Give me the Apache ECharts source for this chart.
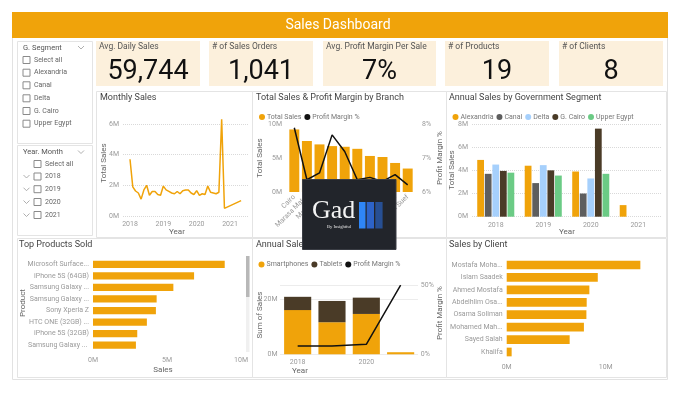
<!DOCTYPE html>
<html><head><meta charset="utf-8">
<script src="https://cdn.jsdelivr.net/npm/echarts@6/dist/echarts.min.js"></script>
<style>html,body{margin:0;padding:0;background:#fff}#c{width:680px;height:393px}</style>
</head><body><div id="c"></div>
<script>
// ---------------- DATA ----------------
const kpiLabels = ['Avg. Daily Sales', '# of Sales Orders', 'Avg. Profit Margin Per Sale', '# of Products', '# of Clients'];
const kpiValues = ['59,744', '1,041', '7%', '19', '8'];

const segmentOptions = ['Select all', 'Alexandria', 'Canal', 'Delta', 'G. Cairo', 'Upper Egypt'];
const yearOptions = ['2018', '2019', '2020', '2021'];

const monthlyMonths = [
  '2018-01','2018-02','2018-03','2018-04','2018-05','2018-06','2018-07','2018-08','2018-09','2018-10','2018-11','2018-12',
  '2019-01','2019-02','2019-03','2019-04','2019-05','2019-06','2019-07','2019-08','2019-09','2019-10','2019-11','2019-12',
  '2020-01','2020-02','2020-03','2020-04','2020-05','2020-06','2020-07','2020-08','2020-09','2020-10','2020-11',
  '2021-05'
];
const monthlySalesM = [
  3.7, 1.9, 1.63, 1.5, 1.1, 1.7, 2.0, 1.35, 1.6, 1.6, 1.4, 1.35,
  1.95, 1.7, 1.6, 1.5, 1.45, 1.6, 1.45, 1.65, 1.7, 1.7, 1.5, 1.4,
  1.65, 1.35, 1.45, 1.4, 1.95, 1.55, 1.5, 1.45, 1.55, 6.3, 0.5,
  1.0
];
const monthlyYearTicks = [2018, 2019, 2020, 2021];

const branchNames = ['Cairo', 'Marasa Matrouh', 'Mansoura', 'Giza', 'Alexandria', 'Port Said', 'Tanta', 'Aswan', 'Suez', 'Beni Suef'];
const branchSalesM = [9.2, 7.5, 7.0, 6.75, 6.65, 6.35, 5.3, 5.15, 4.27, 3.45];
const branchMarginPct = [7.89, 6.36, 6.56, 7.68, 7.19, 6.36, 6.43, 6.31, 6.51, 6.21];

const govYears = ['2018', '2019', '2020', '2021'];
const govAlexandriaM = [4.9, 4.4, 3.9, 1.0];
const govCanalM = [3.7, 2.9, 2.0, null];
const govDeltaM = [4.5, 4.45, 3.3, null];
const govGCairoM = [3.95, 4.0, 7.6, null];
const govUpperEgyptM = [3.8, 3.55, 3.7, null];

const productNames = ['Microsoft Surface...', 'iPhone 5S (64GB)', 'Samsung Galaxy ...', 'Samsung Galaxy ...', 'Sony Xperia Z', 'HTC ONE (32GB) ...', 'iPhone 5S (32GB)', 'Samsung Galaxy ... '];
const productSalesM = [8.9, 6.83, 5.43, 4.3, 4.25, 3.64, 2.99, 2.9];

const annualYears = ['2018', '2019', '2020', '2021'];
const smartphonesM = [16.0, 11.6, 14.6, 0.75];
const tabletsM = [4.8, 7.7, 5.9, 0];
const annualMarginPct = [6.0, 6.0, 7.2, 50.0];

const clientNames = ['Mostafa Moha...', 'Islam Saadek', 'Ahmed Mostafa', 'Abdelhlim Osa...', 'Osama Soliman', 'Mohamed Mah...', 'Sayed Salah', 'Khalifa'];
const clientSalesM = [13.5, 9.2, 8.35, 8.08, 8.05, 7.8, 6.36, 0.5];

// ---------------- STYLE ----------------
const ORANGE = '#F0A30A';
const F = 'Roboto, "Open Sans", sans-serif';
const lbl = { color: '#9a9a9a', fontSize: 7, fontFamily: F };
const dotted = { show: true, lineStyle: { color: '#d9d9d9', type: 'dotted', width: 1 } };
const noLine = { show: false };
const fmtM = v => v + 'M';
const fmtP = v => v + '%';
const toYear = m => Number(m.slice(0, 4)) + (Number(m.slice(5, 7)) - 1) / 12;

// ---------------- GRAPHIC (panels, cards, slicers, axis titles, logo) ----------------
const g = [];
function rect(x, y, w, h, fill, stroke, z) {
  g.push({ type: 'rect', shape: { x, y, width: w, height: h }, style: { fill: fill || 'none', stroke: stroke || null, lineWidth: 1 }, z: z || 0, silent: true });
}
function txt(x, y, text, o) {
  o = o || {};
  g.push({ type: 'text', x, y, rotation: o.rot || 0, z: o.z || 1, silent: true, style: {
    text, fill: o.fill || '#555', fontSize: o.size || 8, fontFamily: o.family || F, fontWeight: o.weight || 'normal',
    align: o.align || 'left', verticalAlign: 'middle', textAlign: o.align || 'left', textVerticalAlign: 'middle' } });
}
function axisTitle(x, y, text, vertical) {
  txt(x, y, text, { size: 8, fill: '#666', align: 'center', rot: vertical ? Math.PI / 2 : 0, z: 3 });
}
function chevron(x, y, z) {
  g.push({ type: 'polyline', shape: { points: [[x, y - 1.5], [x + 3, y + 1.5], [x + 6, y - 1.5]] }, style: { stroke: '#9a9a9a', lineWidth: 0.8, fill: 'none' }, z: z || 1, silent: true });
}
function checkbox(x, y) { rect(x + 0.5, y - 3.5, 7, 7, '#fff', '#8a8a8a', 1); }

// outer frame + title bar
rect(12.5, 12.5, 655, 367, '#fff', '#e2e2e2', -5);
rect(12, 12, 656, 26, ORANGE, null, 1);
txt(338, 25, 'Sales Dashboard', { fill: '#fff', size: 14, align: 'center', z: 2 });

// slicers
rect(17.5, 41.5, 75, 102, 'none', '#e4e4e4', 0);
rect(17.5, 145.5, 75, 90, 'none', '#e4e4e4', 0);
txt(23, 48, 'G. Segment', { size: 7.5, fill: '#555' });
chevron(78, 47.5);
const segY = [60, 72.7, 85.3, 98.3, 111, 123.7];
segmentOptions.forEach((s, i) => { checkbox(22.5, segY[i]); txt(34, segY[i], s, { size: 7, fill: '#666' }); });
txt(23, 152, 'Year. Month', { size: 7.5, fill: '#555' });
chevron(78, 152);
checkbox(33.5, 164); txt(45, 164, 'Select all', { size: 7, fill: '#666' });
const yrY = [176.5, 189.2, 202, 215];
yearOptions.forEach((s, i) => { chevron(23.5, yrY[i]); checkbox(33.5, yrY[i]); txt(45, yrY[i], s, { size: 7, fill: '#666' }); });

// KPI cards
const cards = [[96, 104], [209, 104], [323, 113], [445, 104], [559, 104]];
cards.forEach((c, i) => {
  rect(c[0], 41, c[1], 45, '#FCF0DC', null, 0);
  txt(c[0] + 3, 46.5, kpiLabels[i], { size: 8.5, fill: '#555' });
  txt(c[0] + c[1] / 2, 72, kpiValues[i], { size: 27, fill: '#111', align: 'center' });
});

// panels
rect(96.5, 91.5, 156, 146, 'none', '#e4e4e4', 0);
rect(252.5, 91.5, 194, 146, 'none', '#e4e4e4', 0);
rect(446.5, 91.5, 220, 146, 'none', '#e4e4e4', 0);
rect(17.5, 238.5, 235, 139, 'none', '#e4e4e4', 0);
rect(252.5, 238.5, 194, 139, 'none', '#e4e4e4', 0);
rect(446.5, 238.5, 220, 139, 'none', '#e4e4e4', 0);
txt(100, 97.5, 'Monthly Sales', { size: 9, fill: '#444' });
txt(256, 97.5, 'Total Sales & Profit Margin by Branch', { size: 9, fill: '#444' });
txt(449, 97.5, 'Annual Sales by Government Segment', { size: 9, fill: '#444' });
txt(19, 244.5, 'Top Products Sold', { size: 9, fill: '#444' });
txt(256, 244.5, 'Annual Sales by Product Category', { size: 9, fill: '#444' });
txt(449, 244.5, 'Sales by Client', { size: 9, fill: '#444' });

// axis titles
axisTitle(104, 163, 'Total Sales', true);
axisTitle(177, 232, 'Year');
axisTitle(260, 158, 'Total Sales', true);
axisTitle(440, 158, 'Profit Margin %', true);
axisTitle(452, 170, 'Total Sales', true);
axisTitle(567, 232, 'Year');
axisTitle(23, 303, 'Product', true);
axisTitle(163, 370, 'Sales');
axisTitle(260, 315, 'Sum of Sales', true);
axisTitle(440, 313, 'Profit Margin %', true);
axisTitle(300, 371, 'Year');

// scrollbar in Top Products
rect(246, 256, 3.5, 96, '#f0f0f0', null, 1);
rect(246, 256, 3.5, 41, '#b8b8b8', null, 2);

// logo overlay
rect(302.5, 179.5, 93.5, 70, '#22252b', '#3a3d44', 50);
txt(312, 211, 'Gad', { size: 26, fill: '#f4f4f4', family: '"Liberation Serif", "DejaVu Serif", serif', z: 51 });
txt(339, 226.5, 'By Insightful', { size: 4.5, fill: '#e8e8e8', family: '"Liberation Serif", serif', align: 'center', z: 51 });
rect(359, 202, 6.5, 26.5, '#2F86F6', null, 51);
rect(366.7, 202, 7.3, 26.5, '#2D63C8', null, 51);
rect(375.3, 202, 7.3, 26.5, '#274F93', null, 51);

// ---------------- CHART ----------------
const legendBase = { icon: 'circle', itemWidth: 6, itemHeight: 6, itemGap: 3, textStyle: { fontSize: 7, color: '#777', fontFamily: F, padding: [0, 0, 0, -3] }, selectedMode: false };

const option = {
  animation: false,
  textStyle: { fontFamily: F },
  graphic: { elements: g },
  legend: [
    Object.assign({}, legendBase, { left: 254, top: 108.5, data: ['Total Sales', 'Profit Margin %'] }),
    Object.assign({}, legendBase, { left: 447.5, top: 108.5, data: ['Alexandria', 'Canal', 'Delta', 'G. Cairo', 'Upper Egypt'] }),
    Object.assign({}, legendBase, { left: 253.5, top: 256, data: ['Smartphones', 'Tablets', 'Profit Margin %'] })
  ],
  grid: [
    { left: 123, width: 125, top: 116.3, height: 99.7 },      // monthly
    { left: 288, width: 126, top: 124, height: 68 },          // branch
    { left: 472, width: 190, top: 124, height: 92.7 },        // gov segment
    { left: 93, width: 148, top: 258.5, height: 92.5 },       // top products
    { left: 280.5, width: 137.3, top: 285.2, height: 69.1 },  // annual
    { left: 506.7, width: 148.5, top: 258.8, height: 99.4 }   // clients
  ],
  xAxis: [
    { gridIndex: 0, type: 'value', min: 2017.79, max: 2021.54,
      axisLabel: Object.assign({}, lbl, { customValues: monthlyYearTicks, formatter: v => String(Math.round(v)), margin: 5 }),
      axisTick: noLine, axisLine: noLine, splitLine: noLine },
    { gridIndex: 1, type: 'category', data: branchNames,
      axisLabel: Object.assign({}, lbl, { rotate: 45, interval: 0, margin: 4, width: 44, overflow: 'truncate' }),
      axisTick: noLine, axisLine: noLine },
    { gridIndex: 2, type: 'category', data: govYears,
      axisLabel: Object.assign({}, lbl, { margin: 5 }), axisTick: noLine, axisLine: noLine },
    { gridIndex: 3, type: 'value', min: 0, max: 10, interval: 5,
      axisLabel: Object.assign({}, lbl, { formatter: fmtM, margin: 6 }), axisTick: noLine, axisLine: noLine, splitLine: noLine },
    { gridIndex: 4, type: 'category', data: annualYears,
      axisLabel: Object.assign({}, lbl, { interval: 1, margin: 4 }), axisTick: noLine, axisLine: noLine },
    { gridIndex: 5, type: 'value', min: 0, max: 15, interval: 10,
      axisLabel: Object.assign({}, lbl, { formatter: fmtM, margin: 6, showMaxLabel: false }), axisTick: noLine, axisLine: noLine, splitLine: noLine }
  ],
  yAxis: [
    { gridIndex: 0, type: 'value', min: 0, max: 6.5, interval: 2,
      axisLabel: Object.assign({}, lbl, { formatter: fmtM, margin: 4, showMaxLabel: false }),
      splitLine: Object.assign({}, dotted, { showMaxLine: false }), axisLine: noLine, axisTick: noLine },
    { gridIndex: 1, type: 'value', min: 0, max: 10, interval: 5,
      axisLabel: Object.assign({}, lbl, { formatter: fmtM, margin: 6 }), splitLine: noLine, axisLine: noLine, axisTick: noLine },
    { gridIndex: 1, type: 'value', min: 6, max: 8, interval: 1, position: 'right',
      axisLabel: Object.assign({}, lbl, { formatter: fmtP, margin: 8 }), splitLine: noLine, axisLine: noLine, axisTick: noLine },
    { gridIndex: 2, type: 'value', min: 0, max: 8, interval: 2,
      axisLabel: Object.assign({}, lbl, { formatter: fmtM, margin: 4 }), splitLine: dotted, axisLine: noLine, axisTick: noLine },
    { gridIndex: 3, type: 'category', data: productNames, inverse: true,
      axisLabel: Object.assign({}, lbl, { margin: 4 }), axisLine: noLine, axisTick: noLine },
    { gridIndex: 4, type: 'value', min: 0, max: 25, interval: 20,
      axisLabel: Object.assign({}, lbl, { formatter: fmtM, margin: 3, showMaxLabel: false }), splitLine: dotted, axisLine: noLine, axisTick: noLine },
    { gridIndex: 4, type: 'value', min: 0, max: 50, interval: 50, position: 'right',
      axisLabel: Object.assign({}, lbl, { formatter: fmtP, margin: 3 }), splitLine: noLine, axisLine: noLine, axisTick: noLine },
    { gridIndex: 5, type: 'category', data: clientNames, inverse: true,
      axisLabel: Object.assign({}, lbl, { margin: 4 }), axisLine: noLine, axisTick: noLine }
  ],
  series: [
    { name: 'Monthly Sales', type: 'line', xAxisIndex: 0, yAxisIndex: 0,
      data: monthlyMonths.map((m, i) => [toYear(m), monthlySalesM[i]]),
      showSymbol: false, color: ORANGE, lineStyle: { width: 1.5, color: ORANGE } },

    { name: 'Total Sales', type: 'bar', xAxisIndex: 1, yAxisIndex: 1, data: branchSalesM,
      barCategoryGap: '21%', color: ORANGE },
    { name: 'Profit Margin %', type: 'line', xAxisIndex: 1, yAxisIndex: 2, data: branchMarginPct,
      showSymbol: false, color: '#111', lineStyle: { width: 1.5, color: '#111' } },

    { name: 'Alexandria', type: 'bar', xAxisIndex: 2, yAxisIndex: 3, data: govAlexandriaM, color: ORANGE, barGap: '12%', barCategoryGap: '22%' },
    { name: 'Canal', type: 'bar', xAxisIndex: 2, yAxisIndex: 3, data: govCanalM, color: '#5E5E5E' },
    { name: 'Delta', type: 'bar', xAxisIndex: 2, yAxisIndex: 3, data: govDeltaM, color: '#A6D0FC' },
    { name: 'G. Cairo', type: 'bar', xAxisIndex: 2, yAxisIndex: 3, data: govGCairoM, color: '#4A3B27' },
    { name: 'Upper Egypt', type: 'bar', xAxisIndex: 2, yAxisIndex: 3, data: govUpperEgyptM, color: '#6BCB85' },

    { name: 'Product Sales', type: 'bar', xAxisIndex: 3, yAxisIndex: 4, data: productSalesM, color: ORANGE, barCategoryGap: '37%' },

    { name: 'Smartphones', type: 'bar', stack: 'annual', xAxisIndex: 4, yAxisIndex: 5, data: smartphonesM, color: ORANGE, barCategoryGap: '21%' },
    { name: 'Tablets', type: 'bar', stack: 'annual', xAxisIndex: 4, yAxisIndex: 5, data: tabletsM, color: '#4A3B27' },
    { name: 'Profit Margin %', type: 'line', xAxisIndex: 4, yAxisIndex: 6, data: annualMarginPct,
      showSymbol: false, color: '#111', lineStyle: { width: 1.5, color: '#111' } },

    { name: 'Client Sales', type: 'bar', xAxisIndex: 5, yAxisIndex: 7, data: clientSalesM, color: ORANGE, barCategoryGap: '30%' }
  ]
};

const chart = echarts.init(document.getElementById('c'), null, { renderer: 'canvas' });
chart.setOption(option);
</script>
</body></html>
